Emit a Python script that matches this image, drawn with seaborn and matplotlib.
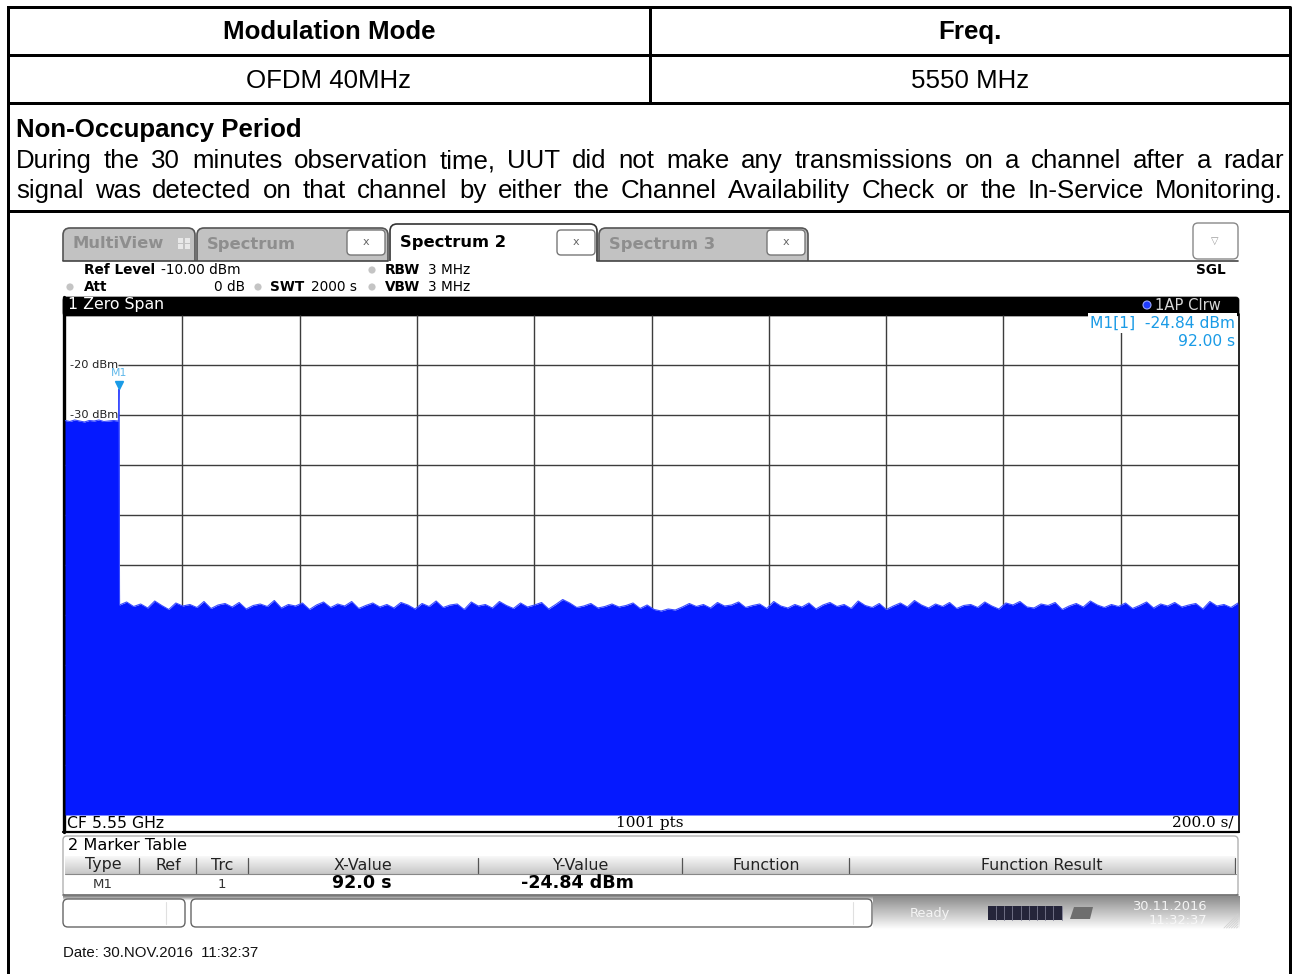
import numpy as np
import pandas as pd
import matplotlib
matplotlib.use("Agg")
import matplotlib.pyplot as plt
import seaborn as sns
from matplotlib.patches import Rectangle, FancyBboxPatch, Circle, Polygon
import matplotlib.transforms as mtransforms

# ---------------- data ----------------
table_headers = ["Modulation Mode", "Freq."]
table_values = ["OFDM 40MHz", "5550 MHz"]
section_title = "Non-Occupancy Period"
section_lines = [
    "During the 30 minutes observation time, UUT did not make any transmissions on a channel after a radar",
    "signal was detected on that channel by either the Channel Availability Check or the In-Service Monitoring.",
]

sweep_time_s = 2000.0
ref_level_dbm = -10.0
bottom_level_dbm = -110.0
ytick_values = [-20, -30]
ytick_labels = ["-20 dBm", "-30 dBm"]

# trace: radar-triggered transmission before the marker, then noise floor
signal_dbm = [-31.1, -31.3, -31.0, -31.2, -31.4, -31.1, -31.2, -31.0, -31.3, -31.2, -31.1, -31.2]
marker_time_s = 92.0
marker_dbm = -24.84
noise_dbm = [
    -68.0, -67.4, -68.3, -67.8, -68.6, -67.2, -68.1, -68.9, -67.6, -68.2,
    -67.9, -68.5, -67.3, -68.7, -68.0, -67.7, -68.4, -67.5, -68.8, -68.1,
    -67.8, -68.3, -67.1, -68.6, -67.9, -68.2, -67.6, -68.9, -68.0, -67.4,
    -68.5, -67.8, -68.2, -67.3, -68.7, -68.1, -67.6, -68.4, -67.9, -68.6,
    -67.5, -68.0, -68.8, -67.7, -68.3, -67.2, -68.5, -68.0, -67.8, -68.9,
    -67.4, -68.2, -67.9, -68.6, -67.3, -68.1, -68.7, -67.6, -68.4, -68.0,
    -67.5, -68.8, -67.9, -66.9, -67.6, -68.5, -68.2, -67.7, -68.6, -68.3,
    -67.8, -68.4, -68.1, -67.6, -68.7, -68.0, -68.9, -69.2, -68.8, -69.0,
    -68.4, -67.7, -68.3, -67.9, -68.6, -67.5, -68.2, -68.0, -67.4, -68.5,
    -68.1, -67.8, -68.7, -67.3, -68.2, -68.6, -67.9, -68.4, -67.6, -68.8,
    -68.0, -67.5, -68.3, -67.9, -68.7, -67.2, -68.1, -68.5, -67.7, -68.9,
    -68.2, -67.6, -68.4, -67.1, -68.0, -68.6, -67.8, -68.3, -67.5, -68.7,
    -68.1, -67.9, -68.5, -67.4, -68.2, -68.8, -67.6, -68.0, -67.3, -68.4,
    -68.6, -67.8, -68.1, -67.5, -68.9, -68.2, -67.7, -68.4, -67.2, -68.0,
    -68.5, -67.9, -68.3, -67.6, -68.7, -68.1, -67.4, -68.6, -67.8, -68.2,
    -67.5, -68.4, -68.0, -67.7, -68.8, -67.3, -68.2, -67.9, -68.5, -67.6,
]

info_left = [("Ref Level", "-10.00 dBm"), ("Att", "0 dB")]
swt_label, swt_value = "SWT", "2000 s"
rbw_label, rbw_value = "RBW", "3 MHz"
vbw_label, vbw_value = "VBW", "3 MHz"
tab_names = ["MultiView", "Spectrum", "Spectrum 2", "Spectrum 3"]
marker_table_cols = ["Type", "Ref", "Trc", "X-Value", "Y-Value", "Function", "Function Result"]
marker_table_row = ["M1", "", "1", "92.0 s", "-24.84 dBm", "", ""]

# ---------------- style ----------------
sns.set_theme(style="white")
plt.rcParams["font.family"] = ["DejaVu Sans"]
plt.rcParams["text.color"] = "black"

BLUE = "#0519ff"
MBLUE = "#1a9be6"
W, H = 1293, 974
fig = plt.figure(figsize=(W / 100, H / 100), dpi=100)
fig.patch.set_facecolor("white")

bg = fig.add_axes([0, 0, 1, 1])
bg.set_xlim(0, W)
bg.set_ylim(H, 0)
bg.axis("off")

PT = 0.72  # px -> pt
SANS = ["Liberation Sans", "DejaVu Sans"]
SERIF = ["DejaVu Serif", "Liberation Serif"]

# ---------------- document table ----------------
lw_tab = 3 * PT
bg.plot([8, 1290, 1290], [7, 7, 980], color="black", lw=lw_tab, solid_capstyle="projecting")
bg.plot([8, 8], [7, 980], color="black", lw=lw_tab)
for yy in [55, 103, 211]:
    bg.plot([8, 1290], [yy, yy], color="black", lw=lw_tab)
bg.plot([650, 650], [7, 103], color="black", lw=lw_tab)

FS_DOC = 18.6
bg.text(329, 32, table_headers[0], ha="center", va="center", fontsize=FS_DOC, fontweight="bold", family=SANS)
bg.text(970, 32, table_headers[1], ha="center", va="center", fontsize=FS_DOC, fontweight="bold", family=SANS)
bg.text(329, 81, table_values[0], ha="center", va="center", fontsize=FS_DOC, family=SANS)
bg.text(970, 81, table_values[1], ha="center", va="center", fontsize=FS_DOC, family=SANS)
bg.text(16, 130, section_title, ha="left", va="center", fontsize=FS_DOC, fontweight="bold", family=SANS)

renderer = fig.canvas.get_renderer()


def justified(line, x0, x1, y):
    words = line.split(" ")
    ts = [bg.text(0, y, w_, ha="left", va="center", fontsize=FS_DOC, family=SANS) for w_ in words]
    widths = [t.get_window_extent(renderer).width for t in ts]
    gap = (x1 - x0 - sum(widths)) / (len(words) - 1)
    x = x0
    for t, wd in zip(ts, widths):
        t.set_x(x)
        x += wd + gap


justified(section_lines[0], 16, 1284, 161)
justified(section_lines[1], 16, 1283, 191)


def rbox(x0, y0, x1, y1, fc, ec, r=5, lw=1, z=1):
    p = FancyBboxPatch((x0, y0), x1 - x0, y1 - y0,
                       boxstyle=f"round,pad=0,rounding_size={r}",
                       fc=fc, ec=ec, lw=lw, zorder=z)
    bg.add_patch(p)
    return p


# ---------------- analyzer chrome: tabs ----------------
tabs = [(63, 195, False), (197, 388, False), (390, 597, True), (599, 808, False)]
for (x0, x1, active), name in zip(tabs, tab_names):
    if active:
        rbox(x0, 224, x1, 268, "white", "#333333", r=7, lw=1.2, z=2)
    else:
        rbox(x0, 228, x1, 268, "#c2c2c2", "#555555", r=7, lw=1.2, z=2)
bg.add_patch(Rectangle((55, 261), 1200, 34, fc="white", ec="none", zorder=3))
bg.plot([63, 388], [261, 261], color="#444444", lw=1.2, zorder=4)
bg.plot([597, 1238], [261, 261], color="#444444", lw=1.2, zorder=4)

FST = 11.8
bg.text(73, 244, tab_names[0], ha="left", va="center", fontsize=FST, fontweight="bold", color="#8e8e8e", zorder=5)
for gx in (180, 187):
    for gy in (240, 246):
        bg.add_patch(Rectangle((gx - 2.5, gy - 2.5), 5, 5, fc="#e8e8e8", ec="none", zorder=5))
bg.text(207, 244, tab_names[1], ha="left", va="center", fontsize=FST, fontweight="bold", color="#8e8e8e", zorder=5)
bg.text(400, 242, tab_names[2], ha="left", va="center", fontsize=FST, fontweight="bold", color="black", zorder=5)
bg.text(609, 244, tab_names[3], ha="left", va="center", fontsize=FST, fontweight="bold", color="#8e8e8e", zorder=5)
for bx in (347, 557, 767):
    rbox(bx, 230, bx + 38, 255, "white", "#777777", r=4, lw=1, z=5)
    bg.text(bx + 19, 242, "x", ha="center", va="center", fontsize=8, color="#666666", zorder=6)
rbox(1193, 223, 1238, 259, "white", "#888888", r=5, lw=1, z=5)
bg.text(1215, 241, "\u25bd", ha="center", va="center", fontsize=7, color="#999999", zorder=6)


# ---------------- info lines ----------------
def dot(x, y):
    bg.add_patch(Circle((x, y), 3.6, fc="#c4c4c4", ec="none", zorder=5))


FSI = 9.8
bg.text(84, 270, info_left[0][0], ha="left", va="center", fontsize=FSI, fontweight="bold", zorder=5)
bg.text(161, 270, info_left[0][1], ha="left", va="center", fontsize=FSI, zorder=5)
dot(70, 287)
bg.text(84, 287, info_left[1][0], ha="left", va="center", fontsize=FSI, fontweight="bold", zorder=5)
bg.text(245, 287, info_left[1][1], ha="right", va="center", fontsize=FSI, zorder=5)
dot(258, 287)
bg.text(270, 287, swt_label, ha="left", va="center", fontsize=FSI, fontweight="bold", zorder=5)
bg.text(311, 287, swt_value, ha="left", va="center", fontsize=FSI, zorder=5)
dot(372, 270)
dot(372, 287)
bg.text(385, 270, rbw_label, ha="left", va="center", fontsize=FSI, fontweight="bold", zorder=5)
bg.text(428, 270, rbw_value, ha="left", va="center", fontsize=FSI, zorder=5)
bg.text(385, 287, vbw_label, ha="left", va="center", fontsize=FSI, fontweight="bold", zorder=5)
bg.text(428, 287, vbw_value, ha="left", va="center", fontsize=FSI, zorder=5)
bg.text(1226, 270, "SGL", ha="right", va="center", fontsize=FSI, fontweight="bold", zorder=5)

# black title bar of diagram
rbox(63, 297, 1239, 316, "black", "black", r=3, lw=0.5, z=5)
bg.add_patch(Rectangle((63, 306), 1176, 10, fc="black", ec="none", zorder=5))
bg.text(68, 305, "1 Zero Span", ha="left", va="center", fontsize=11.3, color="white", zorder=6)
bg.add_patch(Circle((1147, 305), 4, fc="#1f3cff", ec="#9aa8ff", lw=0.8, zorder=6))
bg.text(1155, 305, "1AP Clrw", ha="left", va="center", fontsize=10.6, color="#d8d8d8", zorder=6)

# diagram frame
bg.plot([1238.5, 1238.5], [314, 832], color="black", lw=1.2, zorder=5)
bg.plot([63, 1239], [832, 832], color="black", lw=1.6, zorder=5)
bg.plot([64, 64], [297, 832], color="black", lw=2.4, zorder=5)

# ---------------- trace axes (seaborn) ----------------
ax = fig.add_axes([65 / W, 1 - 815 / H, 1173 / W, 500 / H])
ax.set_xlim(0, sweep_time_s)
ax.set_ylim(bottom_level_dbm, ref_level_dbm)
ax.patch.set_visible(False)
for s in ax.spines.values():
    s.set_visible(False)
ax.set_xticks([])
ax.set_yticks([])

signal_time = np.linspace(0.0, 91.0, len(signal_dbm))
noise_time = np.linspace(93.0, sweep_time_s, len(noise_dbm))
trace = pd.DataFrame({
    "time_s": np.concatenate([signal_time, [marker_time_s], noise_time]),
    "level_dbm": np.concatenate([signal_dbm, [marker_dbm], noise_dbm]),
})

# graticule
div = sweep_time_s / 10
ax.vlines(np.arange(div, sweep_time_s, div), bottom_level_dbm, ref_level_dbm,
          color="#3c3c3c", lw=1.0, zorder=1)
label_end = (118 - 65) / 1173 * sweep_time_s
for lvl in np.arange(ref_level_dbm - 10, bottom_level_dbm, -10):
    x_start = label_end if lvl in ytick_values else 0
    ax.hlines(lvl, x_start, sweep_time_s, color="#3c3c3c", lw=1.0, zorder=1)

ax.fill_between(trace["time_s"], trace["level_dbm"], bottom_level_dbm, color=BLUE, lw=0, zorder=2)
sns.lineplot(data=trace, x="time_s", y="level_dbm", ax=ax, color="#3a4cff", lw=0.8,
             estimator=None, sort=False, zorder=3)
ax.set_xlabel("")
ax.set_ylabel("")

# marker
tri = mtransforms.offset_copy(ax.transData, fig=fig, x=0, y=4, units="dots")
ax.plot([marker_time_s], [marker_dbm], marker="v", ms=6, color=MBLUE, transform=tri, zorder=4, clip_on=False)
ax.annotate("M1", xy=(marker_time_s, marker_dbm), xytext=(0, 16), textcoords="offset pixels",
            ha="center", va="center", fontsize=7.8, color="#5fb8ea", zorder=4)

for lvl, lab in zip(ytick_values, ytick_labels):
    yy = 315 + (ref_level_dbm - lvl) / 10 * 50
    ax.text(70, yy, lab, transform=bg.transData, ha="left", va="center", fontsize=8.2,
            color="#222222", zorder=5, clip_on=False)

wbox = dict(fc="white", ec="none", pad=1.5)
ax.text(1235, 323, f"M1[1]  {marker_dbm:.2f} dBm", transform=bg.transData, ha="right", va="center",
        fontsize=11.2, color=MBLUE, zorder=5, clip_on=False, bbox=wbox)
ax.text(1235, 341, f"{marker_time_s:.2f} s", transform=bg.transData, ha="right", va="center",
        fontsize=11.2, color=MBLUE, zorder=5, clip_on=False, bbox=wbox)

# footer of diagram
bg.text(67, 823, "CF 5.55 GHz", ha="left", va="center", fontsize=11.3, zorder=6)
bg.text(650, 823, "1001 pts", ha="center", va="center", fontsize=11, family=SERIF, zorder=6)
bg.text(1233, 823, f"{sweep_time_s / 10:.1f} s/", ha="right", va="center", fontsize=11,
        family=SERIF, zorder=6)

# ---------------- marker table ----------------
rbox(63, 836, 1238, 896, "white", "#b0b0b0", r=4, lw=1, z=2)
bg.text(68, 846, "2 Marker Table", ha="left", va="center", fontsize=11.6, zorder=6)
grad = np.linspace(0.97, 0.78, 32).reshape(-1, 1)
bg.imshow(grad, extent=(65, 1236, 874, 856), cmap="gray", vmin=0, vmax=1, aspect="auto", zorder=3)
bg.plot([65, 1236], [874, 874], color="#888888", lw=0.8, zorder=4)
for sx in [139, 196, 248, 478, 682, 849, 1235]:
    bg.plot([sx, sx], [858, 873], color="#555555", lw=0.9, zorder=4)
col_centers = [103, 168, 222, 363, 580, 766, 1042]
for cx, name in zip(col_centers, marker_table_cols):
    bg.text(cx, 865, name, ha="center", va="center", fontsize=11.4, color="#222222", zorder=6)
row_y = 884
bg.text(103, row_y, marker_table_row[0], ha="center", va="center", fontsize=9.6, color="#333333", zorder=6)
bg.text(222, row_y, marker_table_row[2], ha="center", va="center", fontsize=9.6, color="#333333", zorder=6)
bg.text(362, row_y - 1, marker_table_row[3], ha="center", va="center", fontsize=12.6, fontweight="bold", zorder=6)
bg.text(577, row_y - 1, marker_table_row[4], ha="center", va="center", fontsize=12.6, fontweight="bold", zorder=6)
bg.plot([63, 1238], [895, 895], color="#6a6a6a", lw=1.2, zorder=5)

# ---------------- status bar ----------------
sgrad = np.linspace(0.55, 1.0, 40).reshape(-1, 1)
bg.imshow(sgrad, extent=(63, 1240, 930, 896), cmap="gray", vmin=0, vmax=1, aspect="auto", zorder=2)
bg.add_patch(Rectangle((63, 900), 810, 31, fc="white", ec="none", zorder=3))
bg.imshow(np.linspace(0.55, 1.0, 6).reshape(-1, 1), extent=(63, 873, 901, 896), cmap="gray",
          vmin=0, vmax=1, aspect="auto", zorder=3)
rbox(63, 899, 185, 927, "white", "#666666", r=5, lw=1, z=4)
bg.plot([166, 166], [902, 924], color="#e0e0e0", lw=0.8, zorder=5)
rbox(191, 899, 872, 927, "white", "#666666", r=5, lw=1, z=4)
bg.plot([853, 853], [902, 924], color="#e0e0e0", lw=0.8, zorder=5)
bg.text(910, 913, "Ready", ha="left", va="center", fontsize=9.4, color="#f4f4f4", zorder=6)
bg.add_patch(Rectangle((988, 906), 74, 14, fc="#25253a", ec="none", zorder=5))
for px in np.arange(996, 1062, 8.2):
    bg.plot([px, px], [906, 920], color="#7a7a90", lw=0.6, zorder=6)
bg.add_patch(Polygon([[1070, 919], [1074, 907], [1093, 907], [1090, 919]], closed=True,
                     fc="#6e6e6e", ec="none", zorder=5))
bg.text(1207, 906, "30.11.2016", ha="right", va="center", fontsize=9.4, color="#f4f4f4", zorder=6)
bg.text(1207, 921, "11:32:37", ha="right", va="center", fontsize=9.4, color="#f7f7f7", zorder=6)
for k in range(6):
    bg.plot([1224 + 2.5 * k, 1238], [928, 914 + 2.5 * k], color="#d0d0d0", lw=0.6, zorder=6)

bg.text(63, 953, "Date: 30.NOV.2016  11:32:37", ha="left", va="center", fontsize=10.8,
        family=SANS, color="#111111", zorder=6)

fig.savefig("out.png", dpi=100)
